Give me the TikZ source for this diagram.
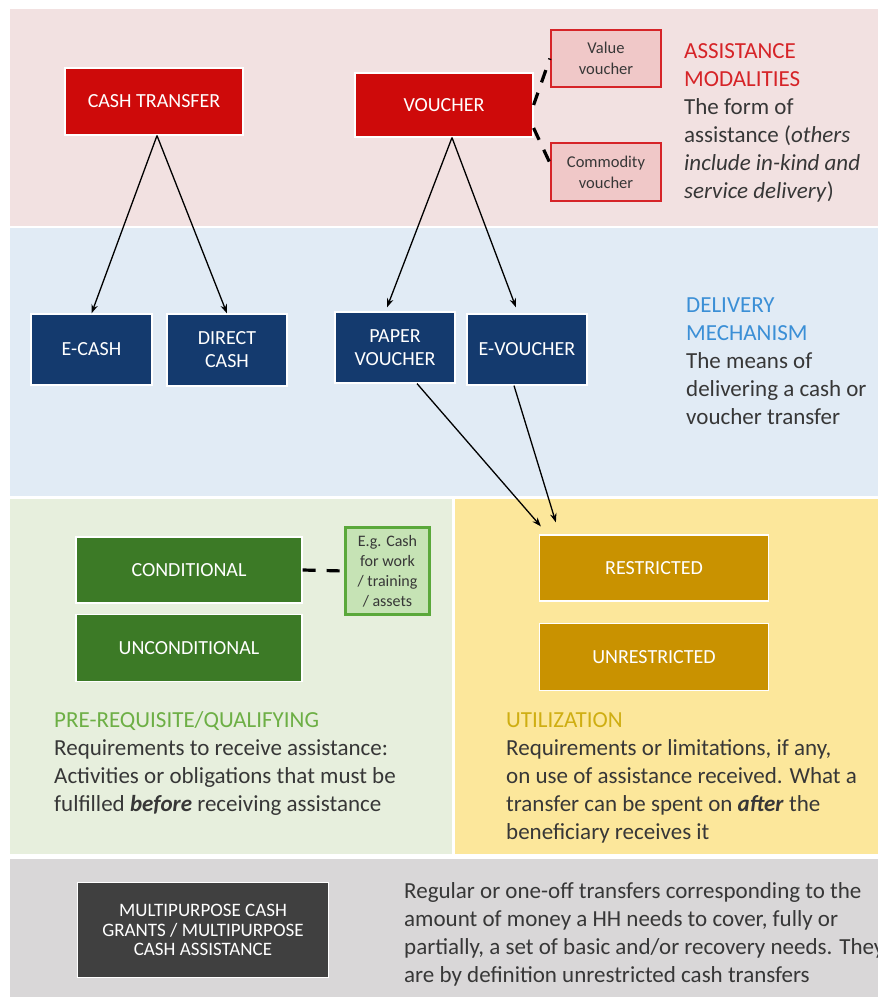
\documentclass[tikz,border=0pt]{standalone}
\usepackage{fontspec}
\setmainfont{Carlito}
\usetikzlibrary{arrows.meta,positioning}
\definecolor{bandPink}{RGB}{242,225,225}
\definecolor{bandBlue}{RGB}{225,235,245}
\definecolor{bandGreen}{RGB}{231,239,221}
\definecolor{bandYellow}{RGB}{252,231,155}
\definecolor{bandGray}{RGB}{217,215,216}
\definecolor{modRed}{RGB}{206,10,10}
\definecolor{modPink}{RGB}{240,200,200}
\definecolor{modEdge}{RGB}{214,36,40}
\definecolor{mechBlue}{RGB}{20,58,110}
\definecolor{headBlue}{RGB}{59,143,214}
\definecolor{condGreen}{RGB}{60,122,38}
\definecolor{egGreen}{RGB}{198,227,181}
\definecolor{egEdge}{RGB}{90,168,58}
\definecolor{headGreen}{RGB}{109,175,69}
\definecolor{useGold}{RGB}{201,146,0}
\definecolor{headGold}{RGB}{207,174,18}
\definecolor{mpcGray}{RGB}{64,64,64}
\definecolor{bodyText}{RGB}{55,55,55}

\begin{document}
\begin{tikzpicture}[x=1pt, y=-1pt,
    box/.style={draw=white, line width=1.2pt, align=center, text=white,
      inner sep=2pt, font=\fontsize{20}{23}\selectfont},
    subbox/.style={line width=2.2pt, align=center, text=bodyText,
      inner sep=1pt, font=\fontsize{16.5}{21}\selectfont},
    % anchored at the baseline of the last line
    blurb/.style={anchor=base west, align=left, inner sep=0pt, text=bodyText,
      font=\fontsize{23}{28}\selectfont},
    link/.style={line width=1.3pt, -{Stealth[length=9pt,width=6.5pt]}},
    dashlink/.style={line width=3.2pt, dash pattern=on 13pt off 11pt}]
  \useasboundingbox (0,0) rectangle (878,997);
  % background bands
  \fill[bandPink] (10,9) rectangle (878,226);
  \fill[bandBlue] (10,228) rectangle (878,496);
  \fill[bandGreen] (10,499) rectangle (452,854);
  \fill[bandYellow] (455,499) rectangle (878,854);
  \fill[bandGray] (10,859) rectangle (878,997);

  % assistance modalities
  \node[box, fill=modRed, minimum width=178pt, minimum height=67pt] (cash) at (154,101.5) {CASH TRANSFER};
  \node[box, fill=modRed, minimum width=178pt, minimum height=64pt] (voucher) at (444,105) {VOUCHER};
  \node[subbox, draw=modEdge, fill=modPink, minimum width=110pt, minimum height=57pt] (valv) at (606,58.5) {Value\\voucher};
  \node[subbox, draw=modEdge, fill=modPink, minimum width=110pt, minimum height=58pt] (comv) at (606,172) {Commodity\\voucher};
  \draw[dashlink] (voucher.east) -- (valv.west);
  \draw[dashlink] ([yshift=-23pt]voucher.east) -- ([yshift=9pt]comv.west);
  \node[blurb] (modtxt) at (684,198) {\textcolor{modEdge}{ASSISTANCE}\\\textcolor{modEdge}{MODALITIES}\\The form of\\assistance (\textit{others}\\\textit{include in-kind and}\\\textit{service delivery})};

  % delivery mechanism
  \node[box, fill=mechBlue, minimum width=121pt, minimum height=71pt] (ecash) at (91.5,349.5) {E-CASH};
  \node[box, fill=mechBlue, minimum width=120pt, minimum height=72pt] (dcash) at (227,350) {DIRECT\\CASH};
  \node[box, fill=mechBlue, minimum width=120pt, minimum height=71pt] (pvouch) at (395,347.5) {PAPER\\VOUCHER};
  \node[box, fill=mechBlue, minimum width=120pt, minimum height=71pt] (evouch) at (527,349.5) {E-VOUCHER};
  \draw[link] ([xshift=3pt]cash.south) -- (ecash.north);
  \draw[link] ([xshift=3pt]cash.south) -- (dcash.north);
  \draw[link] ([xshift=8pt]voucher.south) -- ([xshift=-8pt,yshift=4pt]pvouch.north);
  \draw[link] ([xshift=8pt]voucher.south) -- ([xshift=-11pt,yshift=6pt]evouch.north);
  \node[blurb] (mechtxt) at (686,424) {\textcolor{headBlue}{DELIVERY}\\\textcolor{headBlue}{MECHANISM}\\The means of\\delivering a cash or\\voucher transfer};

  % pre-requisite / qualifying
  \node[box, fill=condGreen, minimum width=226pt, minimum height=66pt] (cond) at (189,570) {CONDITIONAL};
  \node[box, fill=condGreen, minimum width=226pt, minimum height=67pt] (uncond) at (189,648) {UNCONDITIONAL};
  \node[subbox, draw=egEdge, fill=egGreen, minimum width=84pt, minimum height=87pt,
    font=\fontsize{16}{20}\selectfont] (eg) at (387.5,571) {E.g. Cash\\for work\\/ training\\/ assets};
  \draw[dashlink] (cond.east) -- (eg.west);
  \node[blurb] (condtxt) at (54,811) {\textcolor{headGreen}{PRE-REQUISITE/QUALIFYING}\\Requirements to receive assistance:\\Activities or obligations that must be\\fulfilled \textbf{\textit{before}} receiving assistance};

  % utilization
  \node[box, fill=useGold, minimum width=229pt, minimum height=66pt] (restr) at (654,568) {RESTRICTED};
  \node[box, fill=useGold, minimum width=229pt, minimum height=67pt] (unrestr) at (654,657) {UNRESTRICTED};
  \draw[link] ([xshift=22pt]pvouch.south) -- ([xshift=2pt,yshift=8pt]restr.north west);
  \draw[link] ([xshift=-13pt]evouch.south) -- ([xshift=17pt,yshift=12pt]restr.north west);
  \node[blurb] (usetxt) at (506,839) {\textcolor{headGold}{UTILIZATION}\\Requirements or limitations, if any,\\on use of assistance received. What a\\transfer can be spent on \textbf{\textit{after}} the\\beneficiary receives it};

  % multipurpose cash
  \node[box, fill=mpcGray, minimum width=251pt, minimum height=95pt,
    font=\fontsize{19}{19.5}\selectfont] (mpc) at (203,930) {MULTIPURPOSE CASH\\GRANTS / MULTIPURPOSE\\CASH ASSISTANCE};
  \node[blurb] (mpctxt) at (404,982) {Regular or one-off transfers corresponding to the\\amount of money a HH needs to cover, fully or\\partially, a set of basic and/or recovery needs. They\\are by definition unrestricted cash transfers};
\end{tikzpicture}
\end{document}
